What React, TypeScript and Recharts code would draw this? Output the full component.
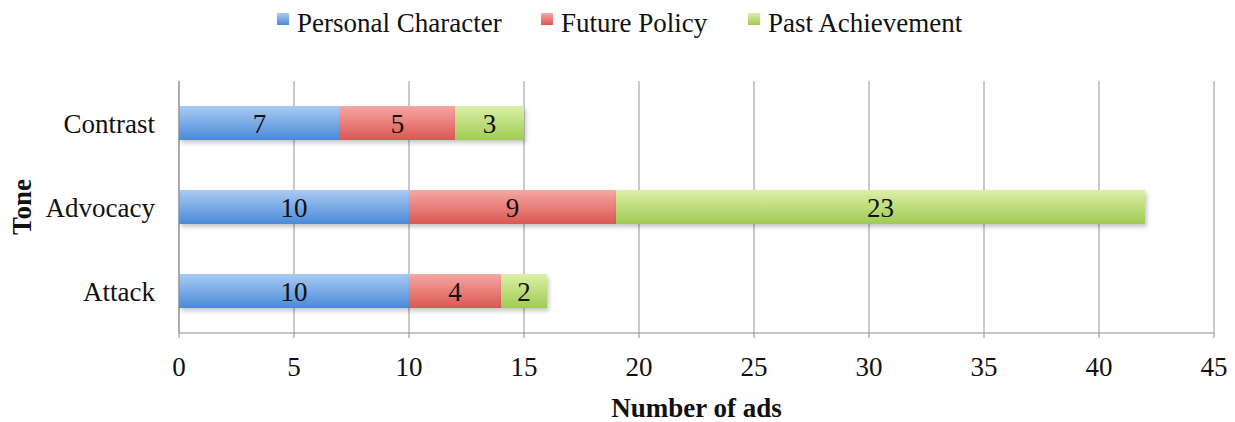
import { BarChart, Bar, XAxis, YAxis, CartesianGrid, LabelList } from "recharts";

const tones = ["Contrast", "Advocacy", "Attack"];
const personalCharacter = [7, 10, 10];
const futurePolicy = [5, 9, 4];
const pastAchievement = [3, 23, 2];
const xTicks = [0, 5, 10, 15, 20, 25, 30, 35, 40, 45];

const FONT = '"Liberation Serif", "Times New Roman", serif';
const FS = 27;

const SERIES = [
  { key: "personal", name: "Personal Character", top: "#a9cbf3", bottom: "#4a8ad8", legendX: 277 },
  { key: "future", name: "Future Policy", top: "#f7a7a3", bottom: "#da5752", legendX: 541 },
  { key: "past", name: "Past Achievement", top: "#dcf0a6", bottom: "#9fcb52", legendX: 748 },
];

const data = tones.map((tone, i) => ({
  tone,
  personal: personalCharacter[i],
  future: futurePolicy[i],
  past: pastAchievement[i],
}));

// legend sits above the plot, outside recharts so it doesn't eat plot height
function LegendRow() {
  return (
    <>
      {SERIES.map((s) => (
        <div
          key={s.key}
          style={{
            position: "absolute",
            left: s.legendX,
            top: 8,
            display: "flex",
            alignItems: "flex-start",
            fontFamily: FONT,
            fontSize: FS,
            lineHeight: "30px",
            color: "#111",
            whiteSpace: "nowrap",
          }}
        >
          <span
            style={{
              display: "inline-block",
              width: 12,
              height: 12,
              marginTop: 5,
              marginRight: 8,
              background: `linear-gradient(${s.top}, ${s.bottom})`,
            }}
          />
          <span>{s.name}</span>
        </div>
      ))}
    </>
  );
}

const ToneLabel = ({ viewBox }: any) => {
  const x = viewBox.x + 22;
  const y = viewBox.y + viewBox.height / 2;
  return (
    <text
      x={x}
      y={y}
      transform={`rotate(-90, ${x}, ${y})`}
      textAnchor="middle"
      dominantBaseline="central"
      fill="#111"
      fontSize={FS}
      fontWeight="bold"
      fontFamily={FONT}
    >
      Tone
    </text>
  );
};

export default function App() {
  return (
    <div style={{ position: "absolute", left: 0, top: 0, width: 1235, height: 422, background: "#fff" }}>
      <LegendRow />
      <BarChart
        layout="vertical"
        width={1235}
        height={422}
        data={data}
        margin={{ top: 81, right: 21, bottom: 0, left: 0 }}
        barSize={34}
      >
        <defs>
          {SERIES.map((s) => (
            <linearGradient key={s.key} id={`grad-${s.key}`} x1="0" y1="0" x2="0" y2="1">
              <stop offset="0%" stopColor={s.top} />
              <stop offset="100%" stopColor={s.bottom} />
            </linearGradient>
          ))}
          <filter id="shadow" x="-5%" y="-20%" width="115%" height="160%">
            <feDropShadow dx="2" dy="3" stdDeviation="2" floodColor="#000" floodOpacity="0.22" />
          </filter>
        </defs>
        <CartesianGrid horizontal={false} stroke="#a6a6a6" strokeWidth={1.2} />
        <XAxis
          type="number"
          domain={[0, 45]}
          ticks={xTicks}
          interval={0}
          height={89}
          stroke="#8c8c8c"
          tickSize={5}
          tickMargin={19}
          tick={{ fill: "#111", fontSize: FS, fontFamily: FONT }}
          label={{
            value: "Number of ads",
            position: "insideBottom",
            offset: 5,
            fill: "#111",
            fontSize: FS,
            fontWeight: "bold",
            fontFamily: FONT,
          }}
        />
        <YAxis
          yAxisId="edge"
          type="number"
          domain={[0, 3]}
          ticks={[0, 1, 2, 3]}
          width={0}
          axisLine={false}
          stroke="#8c8c8c"
          tickSize={5}
          tickFormatter={() => ""}
        />
        <YAxis
          type="category"
          dataKey="tone"
          width={179}
          stroke="#8c8c8c"
          tickLine={false}
          tickMargin={18}
          tick={{ fill: "#111", fontSize: FS, fontFamily: FONT }}
          label={<ToneLabel />}
        />
        {SERIES.map((s) => (
          <Bar
            key={s.key}
            dataKey={s.key}
            name={s.name}
            stackId="tone"
            fill={`url(#grad-${s.key})`}
            filter="url(#shadow)"
            isAnimationActive={false}
          >
            <LabelList dataKey={s.key} position="center" fill="#111" fontSize={FS} fontFamily={FONT} />
          </Bar>
        ))}
      </BarChart>
    </div>
  );
}
